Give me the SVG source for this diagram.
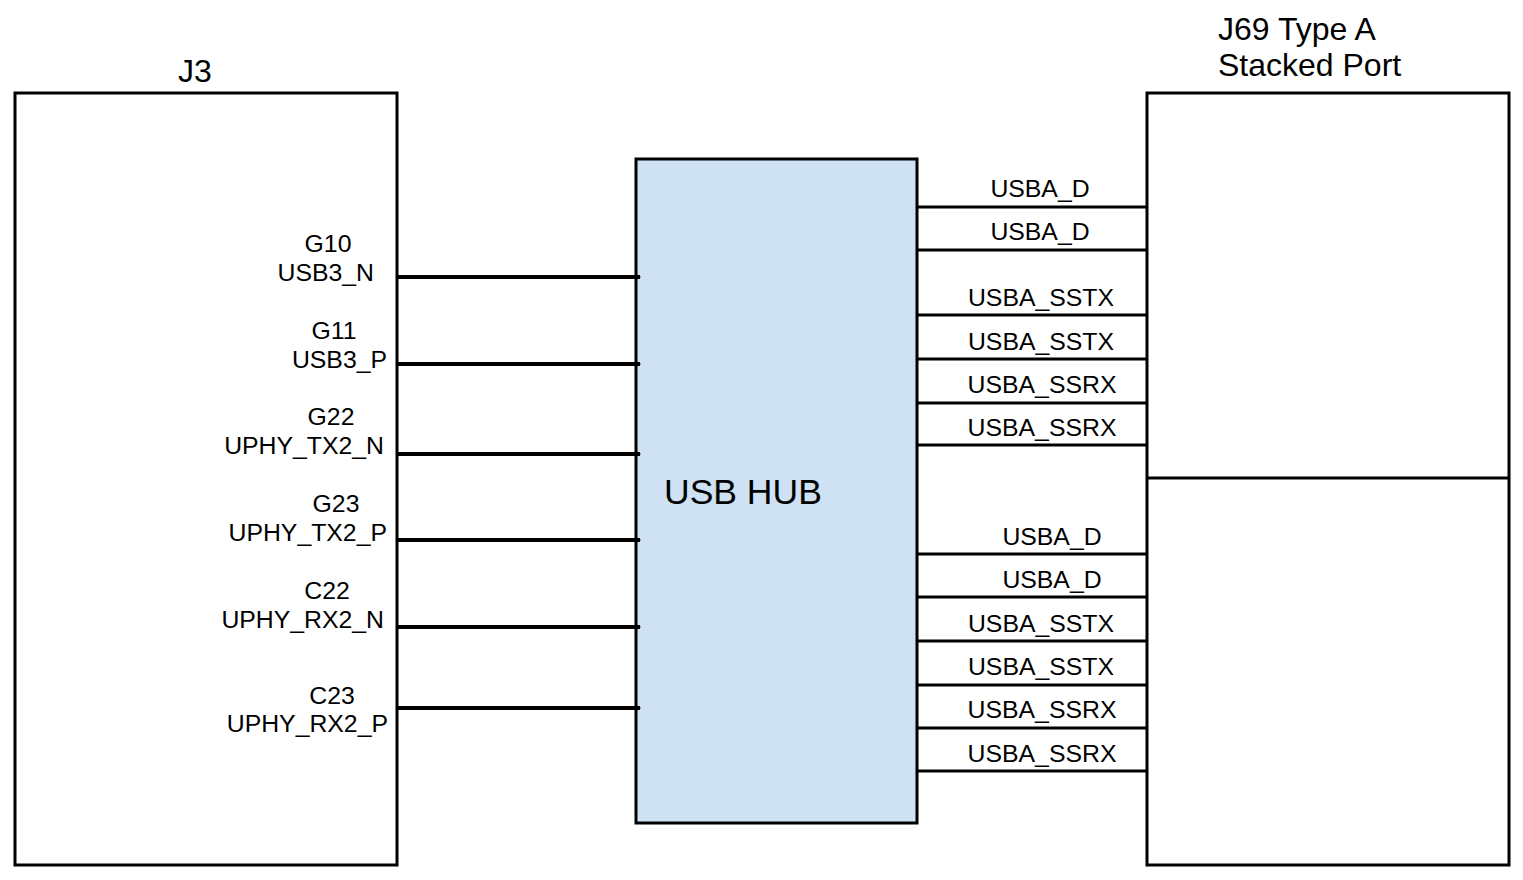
<svg xmlns="http://www.w3.org/2000/svg" width="1523" height="880" viewBox="0 0 1523 880">
<style>
text{font-family:"Liberation Sans",Arial,sans-serif;fill:#000}
.box{fill:#fff;stroke:#000;stroke-width:3}
.hub{fill:#cfe2f3;stroke:#000;stroke-width:3}
.wire{stroke:#000;stroke-width:3;fill:none}
.in{stroke:#000;stroke-width:4;fill:none}
.lbl{font-size:24.8px}
.r{text-anchor:end}
.c{text-anchor:middle}
.t{font-size:32px}
</style>
<defs>
<marker id="ah" markerWidth="5" markerHeight="6" refX="4" refY="3" orient="auto" markerUnits="userSpaceOnUse">
<path d="M0,0 L5,3 L0,6 Z" fill="#000"/>
</marker>
</defs>
<rect width="1523" height="880" fill="#fff"/>
<g id="j3">
<rect class="box" x="15" y="93" width="382" height="772"/>
<text class="t c" x="195" y="82">J3</text>
<text class="lbl c" x="328" y="252">G10</text>
<text class="lbl r" x="374" y="281">USB3_N</text>
<text class="lbl c" x="334" y="339">G11</text>
<text class="lbl r" x="387" y="368">USB3_P</text>
<text class="lbl c" x="331" y="425">G22</text>
<text class="lbl r" x="384" y="454">UPHY_TX2_N</text>
<text class="lbl c" x="336" y="512">G23</text>
<text class="lbl r" x="387" y="541">UPHY_TX2_P</text>
<text class="lbl c" x="327" y="599">C22</text>
<text class="lbl r" x="384" y="628">UPHY_RX2_N</text>
<text class="lbl c" x="332" y="704">C23</text>
<text class="lbl r" x="388" y="732">UPHY_RX2_P</text>
</g>
<g id="hub">
<rect class="hub" x="636" y="159" width="281" height="664"/>
<text x="664" y="504" font-size="35.5">USB HUB</text>
</g>
<g id="j69">
<rect class="box" x="1147" y="93" width="362" height="772"/>
<line class="wire" x1="1147" y1="478" x2="1509" y2="478"/>
<text class="t" x="1218" y="40">J69 Type A</text>
<text class="t" x="1218" y="76">Stacked Port</text>
</g>
<g id="connectors">
<line class="in" x1="397" y1="277" x2="640" y2="277" marker-end="url(#ah)"/>
<line class="in" x1="397" y1="364" x2="640" y2="364" marker-end="url(#ah)"/>
<line class="in" x1="397" y1="454" x2="640" y2="454" marker-end="url(#ah)"/>
<line class="in" x1="397" y1="540" x2="640" y2="540" marker-end="url(#ah)"/>
<line class="in" x1="397" y1="627" x2="640" y2="627" marker-end="url(#ah)"/>
<line class="in" x1="397" y1="708" x2="640" y2="708" marker-end="url(#ah)"/>
<line class="wire" x1="917" y1="207" x2="1147" y2="207"/>
<line class="wire" x1="917" y1="250" x2="1147" y2="250"/>
<line class="wire" x1="917" y1="315" x2="1147" y2="315"/>
<line class="wire" x1="917" y1="359" x2="1147" y2="359"/>
<line class="wire" x1="917" y1="403" x2="1147" y2="403"/>
<line class="wire" x1="917" y1="445" x2="1147" y2="445"/>
<line class="wire" x1="917" y1="554" x2="1147" y2="554"/>
<line class="wire" x1="917" y1="597" x2="1147" y2="597"/>
<line class="wire" x1="917" y1="641" x2="1147" y2="641"/>
<line class="wire" x1="917" y1="685" x2="1147" y2="685"/>
<line class="wire" x1="917" y1="728" x2="1147" y2="728"/>
<line class="wire" x1="917" y1="771" x2="1147" y2="771"/>
<text class="lbl c" x="1040" y="197">USBA_D</text>
<text class="lbl c" x="1040" y="240">USBA_D</text>
<text class="lbl c" x="1041" y="306">USBA_SSTX</text>
<text class="lbl c" x="1041" y="350">USBA_SSTX</text>
<text class="lbl c" x="1042" y="393">USBA_SSRX</text>
<text class="lbl c" x="1042" y="436">USBA_SSRX</text>
<text class="lbl c" x="1052" y="545">USBA_D</text>
<text class="lbl c" x="1052" y="588">USBA_D</text>
<text class="lbl c" x="1041" y="632">USBA_SSTX</text>
<text class="lbl c" x="1041" y="675">USBA_SSTX</text>
<text class="lbl c" x="1042" y="718">USBA_SSRX</text>
<text class="lbl c" x="1042" y="762">USBA_SSRX</text>
</g>
</svg>
